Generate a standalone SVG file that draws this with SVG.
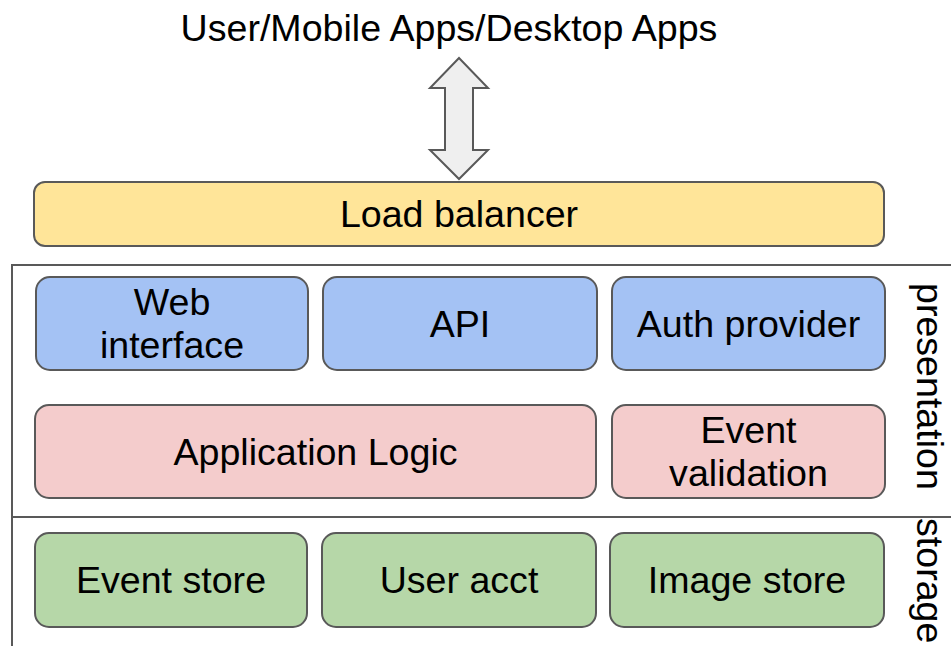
<svg xmlns="http://www.w3.org/2000/svg" width="951" height="646" viewBox="0 0 951 646">
<style>
text{font-family:"Liberation Sans",Arial,sans-serif;font-size:37.6px;fill:#000;text-anchor:middle}
.box{stroke:#595959;stroke-width:2}
.lb{fill:#ffe599}.bl{fill:#a4c2f4}.pk{fill:#f4cccc}.gr{fill:#b6d7a8}
.frame{fill:none;stroke:#595959;stroke-width:2}
</style>
<rect width="951" height="646" fill="#fff"/>
<g id="frame">
<rect class="frame" x="12" y="265" width="960" height="400"/>
<line class="frame" x1="12" y1="517" x2="951" y2="517"/>
</g>
<g id="clients"><text x="449" y="41">User/Mobile Apps/Desktop Apps</text></g>
<g id="connectors">
<polygon points="459,58 488,88 473,88 473,150 488,150 459,179 430,150 445,150 445,88 430,88" fill="#efefef" stroke="#595959" stroke-width="2" stroke-linejoin="miter"/>
</g>
<g id="load-balancer"><rect class="box lb" x="34" y="182" width="850" height="64" rx="11"/><text x="459" y="227">Load balancer</text></g>
<g id="web-interface"><rect class="box bl" x="36" y="277" width="272" height="93" rx="14"/><text x="172" y="315">Web</text><text x="172" y="358">interface</text></g>
<g id="api"><rect class="box bl" x="323" y="277" width="274" height="93" rx="14"/><text x="460" y="337">API</text></g>
<g id="auth-provider"><rect class="box bl" x="612" y="277" width="273" height="93" rx="14"/><text x="748.5" y="337">Auth provider</text></g>
<g id="application-logic"><rect class="box pk" x="35" y="405" width="561" height="93" rx="14"/><text x="315.5" y="465">Application Logic</text></g>
<g id="event-validation"><rect class="box pk" x="612" y="405" width="273" height="93" rx="14"/><text x="748.5" y="443">Event</text><text x="748.5" y="486">validation</text></g>
<g id="event-store"><rect class="box gr" x="35" y="533" width="272" height="94" rx="14"/><text x="171" y="593">Event store</text></g>
<g id="user-acct"><rect class="box gr" x="322" y="533" width="274" height="94" rx="14"/><text x="459" y="593">User acct</text></g>
<g id="image-store"><rect class="box gr" x="610" y="533" width="274" height="94" rx="14"/><text x="747" y="593">Image store</text></g>
<g id="layer-labels">
<text transform="translate(917,283) rotate(90)" style="text-anchor:start">presentation</text>
<text transform="translate(917,518) rotate(90)" style="text-anchor:start">storage</text>
</g>
</svg>
